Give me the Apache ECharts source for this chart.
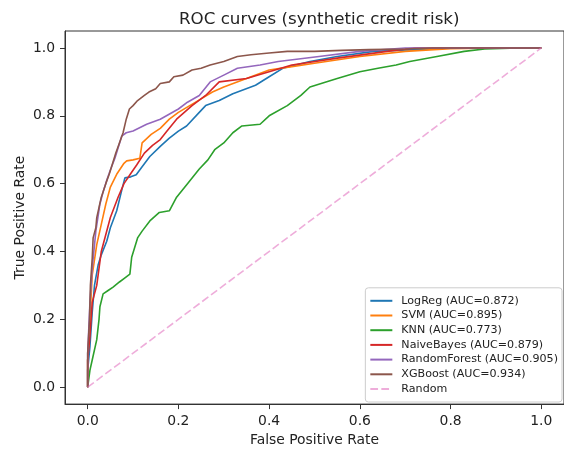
<!DOCTYPE html>
<html>
<head>
<meta charset="utf-8">
<script src="https://cdn.jsdelivr.net/npm/echarts@6/dist/echarts.min.js"></script>
<style>html,body{margin:0;padding:0;background:#fff}#c{width:564px;height:452px}</style>
</head>
<body>
<div id="c"></div>
<script>
const tickValues = [0, 0.2, 0.4, 0.6, 0.8, 1.0];

const logregFpr = [0,0,0.005,0.01,0.015,0.023,0.03,0.042,0.05,0.064,0.075,0.082,0.095,0.107,0.12,0.137,0.16,0.18,0.2,0.218,0.246,0.26,0.29,0.32,0.37,0.4,0.43,0.49,0.55,0.63,0.72,0.8,0.9,1];
const logregTpr = [0,0.05,0.12,0.22,0.3,0.36,0.39,0.43,0.47,0.52,0.58,0.617,0.62,0.626,0.65,0.68,0.71,0.734,0.755,0.77,0.81,0.83,0.845,0.865,0.89,0.915,0.94,0.96,0.975,0.99,0.995,1,1,1];

const svmFpr = [0,0,0.005,0.01,0.02,0.03,0.04,0.05,0.065,0.08,0.086,0.1,0.115,0.12,0.14,0.16,0.18,0.2,0.225,0.25,0.275,0.3,0.35,0.4,0.45,0.5,0.6,0.7,0.8,0.9,1];
const svmTpr = [0,0.08,0.2,0.33,0.42,0.48,0.54,0.59,0.63,0.66,0.667,0.67,0.675,0.72,0.745,0.763,0.79,0.81,0.83,0.85,0.87,0.885,0.91,0.935,0.945,0.955,0.975,0.99,0.998,1,1];

const knnFpr = [0,0.005,0.01,0.02,0.025,0.027,0.034,0.045,0.056,0.07,0.08,0.093,0.097,0.11,0.12,0.137,0.158,0.18,0.196,0.22,0.246,0.265,0.28,0.3,0.32,0.34,0.38,0.4,0.44,0.47,0.49,0.55,0.6,0.64,0.68,0.71,0.77,0.83,0.875,0.95,1];
const knnTpr = [0,0.05,0.08,0.14,0.2,0.237,0.275,0.285,0.295,0.31,0.32,0.333,0.383,0.44,0.46,0.49,0.515,0.52,0.56,0.6,0.643,0.67,0.7,0.72,0.75,0.77,0.775,0.8,0.83,0.86,0.885,0.91,0.93,0.94,0.95,0.96,0.975,0.99,0.997,1,1];

const nbFpr = [0,0,0.005,0.01,0.02,0.03,0.04,0.05,0.067,0.08,0.095,0.108,0.125,0.143,0.16,0.174,0.196,0.23,0.26,0.29,0.35,0.4,0.45,0.55,0.66,0.72,0.85,1];
const nbTpr = [0,0.08,0.15,0.25,0.3,0.4,0.45,0.5,0.56,0.6,0.63,0.655,0.69,0.713,0.73,0.754,0.79,0.83,0.86,0.9,0.91,0.93,0.95,0.97,0.99,1,1,1];

const rfFpr = [0,0,0.005,0.01,0.018,0.027,0.035,0.042,0.05,0.06,0.075,0.085,0.1,0.13,0.16,0.2,0.22,0.246,0.27,0.3,0.33,0.38,0.42,0.51,0.6,0.7,0.85,1];
const rfTpr = [0,0.1,0.25,0.35,0.46,0.54,0.58,0.61,0.64,0.675,0.74,0.75,0.755,0.775,0.79,0.82,0.84,0.86,0.9,0.92,0.94,0.95,0.96,0.975,0.99,1,1,1];

const xgbFpr = [0,0,0.004,0.006,0.01,0.012,0.018,0.02,0.025,0.03,0.035,0.04,0.048,0.055,0.062,0.07,0.078,0.085,0.092,0.1,0.11,0.125,0.135,0.15,0.16,0.18,0.19,0.21,0.23,0.25,0.27,0.3,0.33,0.36,0.4,0.44,0.5,0.56,0.62,0.7,0.76,0.85,0.93,1];
const xgbTpr = [0,0.1,0.2,0.3,0.38,0.44,0.47,0.5,0.53,0.56,0.58,0.6,0.63,0.66,0.69,0.72,0.75,0.79,0.82,0.83,0.845,0.86,0.87,0.88,0.895,0.9,0.915,0.92,0.935,0.94,0.95,0.96,0.975,0.98,0.985,0.99,0.99,0.993,0.995,0.997,1,1,1,1];

const randomFpr = [0, 1];
const randomTpr = [0, 1];

const names = ['LogReg (AUC=0.872)','SVM (AUC=0.895)','KNN (AUC=0.773)','NaiveBayes (AUC=0.879)','RandomForest (AUC=0.905)','XGBoost (AUC=0.934)','Random'];
const colors = ['#1f77b4','#ff7f0e','#2ca02c','#d62728','#9467bd','#8c564b','#e377c2'];

function pairs(xs, ys){ return xs.map((x,i)=>[x, ys[i]]); }
const curves = [
  pairs(logregFpr, logregTpr),
  pairs(svmFpr, svmTpr),
  pairs(knnFpr, knnTpr),
  pairs(nbFpr, nbTpr),
  pairs(rfFpr, rfTpr),
  pairs(xgbFpr, xgbTpr),
  pairs(randomFpr, randomTpr)
];

const FONT = 'DejaVu Sans';
const solidIcon = 'path://M0,0H22V2H0Z';
const dashIcon = 'path://M0,0H7.7V2H0Z M11,0H18.7V2H11Z M22,0H22V2H22Z';

const chart = echarts.init(document.getElementById('c'), null, {renderer:'canvas'});
const series = curves.map((d,i)=>({
  name: names[i],
  type: 'line',
  data: d,
  symbol: 'none',
  showSymbol: false,
  animation: false,
  z: 2 + i,
  lineStyle: i === 6
    ? {color: colors[i], width: 1.6, type: [7.7, 3.3], opacity: 0.6}
    : {color: colors[i], width: 1.6},
  itemStyle: {color: colors[i], opacity: i === 6 ? 0.6 : 1}
}));

chart.setOption({
  animation: false,
  title: {
    text: 'ROC curves (synthetic credit risk)',
    left: 174, top: 6,
    textStyle: {fontFamily: FONT, fontSize: 16.7, fontWeight: 'normal', color: '#222'}
  },
  grid: {left: 65, top: 31, width: 502, height: 376, show: true, borderColor: '#333', borderWidth: 1, containLabel: false},
  xAxis: {
    type: 'value', min: -0.05, max: 1.05,
    name: 'False Positive Rate', nameLocation: 'middle', nameGap: 26,
    nameTextStyle: {fontFamily: FONT, fontSize: 13.9, color: '#222'},
    axisLine: {show: true, onZero: false, lineStyle: {color: '#333', width: 1}},
    axisTick: {show: true, length: 5, lineStyle: {color: '#333'}, customValues: tickValues},
    axisLabel: {fontFamily: FONT, fontSize: 13.9, color: '#222', margin: 10, customValues: tickValues, formatter: v => v.toFixed(1)},
    splitLine: {show: false}
  },
  yAxis: {
    type: 'value', min: -0.05, max: 1.05,
    name: 'True Positive Rate', nameLocation: 'middle', nameGap: 38, nameRotate: 90,
    nameMoveOverlap: false,
    nameTextStyle: {fontFamily: FONT, fontSize: 13.9, color: '#222'},
    axisLine: {show: true, onZero: false, lineStyle: {color: '#333', width: 1}},
    axisTick: {show: true, length: 5, lineStyle: {color: '#333'}, customValues: tickValues},
    axisLabel: {fontFamily: FONT, fontSize: 13.9, color: '#222', margin: 10, customValues: tickValues, formatter: v => v.toFixed(1)},
    splitLine: {show: false}
  },
  legend: {
    orient: 'vertical',
    right: 2, bottom: 50,
    data: names.map((n,i)=>({name: n, icon: i === 6 ? dashIcon : solidIcon})),
    itemWidth: 22, itemHeight: 2, itemGap: 2.7,
    padding: [7, 4, 7, 5],
    backgroundColor: 'rgba(255,255,255,0.8)',
    borderColor: '#cccccc', borderWidth: 1, borderRadius: 3,
    textStyle: {fontFamily: FONT, fontSize: 11.1, color: '#222', lineHeight: 12, padding: [0,0,0,4]}
  },
  series: series
});
</script>
</body>
</html>
